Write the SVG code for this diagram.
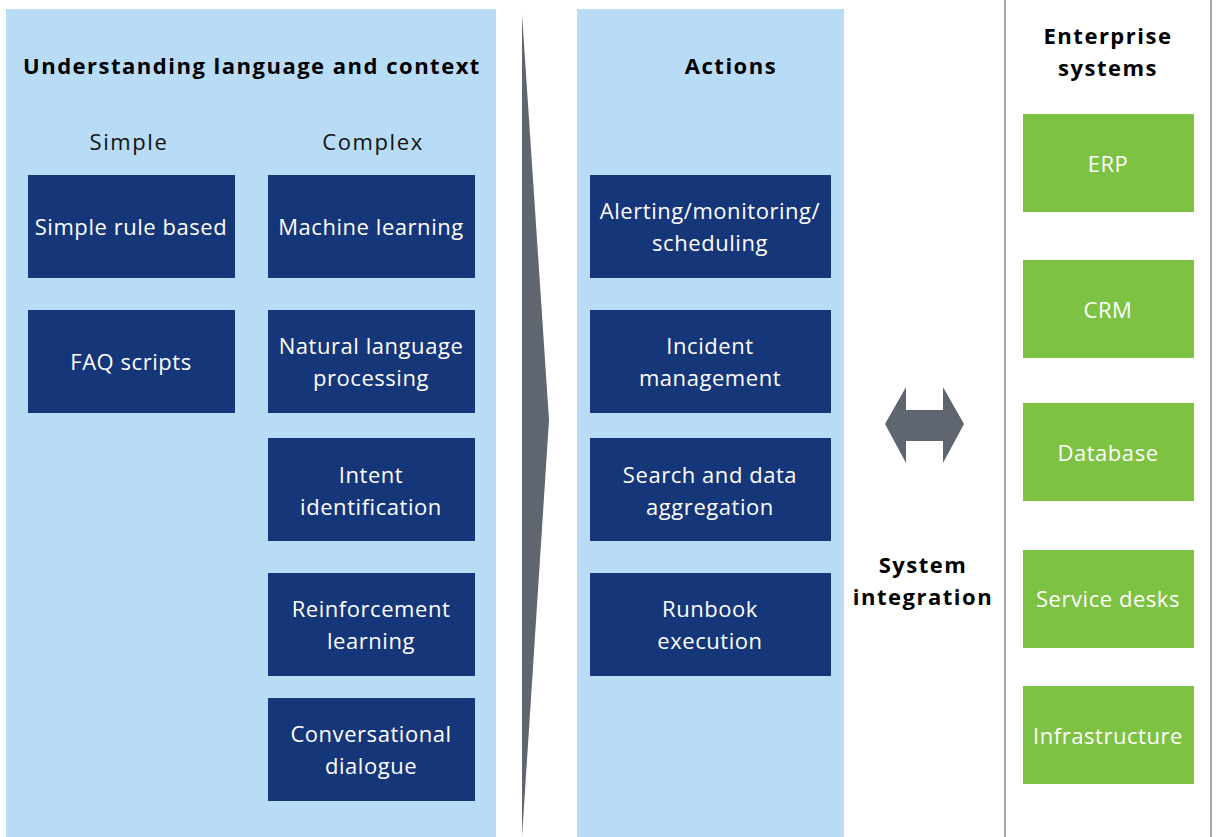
<svg xmlns="http://www.w3.org/2000/svg" width="1216" height="837" viewBox="0 0 1216 837">
<style>
.panel{fill:#b8dcf5}
.blue{fill:#16367a}
.green{fill:#7dc242}
.bt{font-family:"Open Sans","Liberation Sans",sans-serif;font-size:22px;fill:#ffffff;text-anchor:middle;letter-spacing:0.55px}
.hd{font-family:"Open Sans","Liberation Sans",sans-serif;font-size:22px;font-weight:bold;fill:#000;text-anchor:middle;letter-spacing:1.5px}
.sub{font-family:"Open Sans","Liberation Sans",sans-serif;font-size:22px;fill:#111;text-anchor:middle;letter-spacing:1.6px}
.gray{fill:#5f6670}
</style>
<rect class="panel" x="6" y="9" width="490" height="828"/>
<rect class="panel" x="577" y="9" width="267" height="828"/>
<line x1="1005" y1="0" x2="1005" y2="837" stroke="#8a8a8a" stroke-width="1.5"/>
<line x1="1211" y1="0" x2="1211" y2="837" stroke="#8a8a8a" stroke-width="1.5"/>
<g id="connectors">
<polygon class="gray" points="522,14 549,420 522,837"/>
<polygon class="gray" points="885,424 906,387 906,410 943,410 943,387 964,424 943,463 943,441 906,441 906,463"/>
</g>
<text class="hd" x="252" y="74">Understanding language and context</text>
<text class="sub" x="129" y="150">Simple</text>
<text class="sub" x="373" y="150">Complex</text>
<text class="hd" x="731" y="74">Actions</text>
<text class="hd" x="1108" y="44">Enterprise</text>
<text class="hd" x="1108" y="76">systems</text>
<text class="hd" x="923" y="573">System</text>
<text class="hd" x="923" y="605">integration</text>
<g id="n-simple-rule"><rect class="blue" x="28" y="175" width="207" height="103"/><text class="bt" x="131" y="235">Simple rule based</text></g>
<g id="n-faq"><rect class="blue" x="28" y="310" width="207" height="103"/><text class="bt" x="131" y="370">FAQ scripts</text></g>
<g id="n-ml"><rect class="blue" x="268" y="175" width="207" height="103"/><text class="bt" x="371" y="235">Machine learning</text></g>
<g id="n-nlp"><rect class="blue" x="268" y="310" width="207" height="103"/><text class="bt" x="371" y="354">Natural language</text><text class="bt" x="371" y="386">processing</text></g>
<g id="n-intent"><rect class="blue" x="268" y="438" width="207" height="103"/><text class="bt" x="371" y="483">Intent</text><text class="bt" x="371" y="515">identification</text></g>
<g id="n-rl"><rect class="blue" x="268" y="573" width="207" height="103"/><text class="bt" x="371" y="617">Reinforcement</text><text class="bt" x="371" y="649">learning</text></g>
<g id="n-conv"><rect class="blue" x="268" y="698" width="207" height="103"/><text class="bt" x="371" y="742">Conversational</text><text class="bt" x="371" y="774">dialogue</text></g>
<g id="n-alert"><rect class="blue" x="590" y="175" width="241" height="103"/><text class="bt" x="710" y="219">Alerting/monitoring/</text><text class="bt" x="710" y="251">scheduling</text></g>
<g id="n-incident"><rect class="blue" x="590" y="310" width="241" height="103"/><text class="bt" x="710" y="354">Incident</text><text class="bt" x="710" y="386">management</text></g>
<g id="n-search"><rect class="blue" x="590" y="438" width="241" height="103"/><text class="bt" x="710" y="483">Search and data</text><text class="bt" x="710" y="515">aggregation</text></g>
<g id="n-runbook"><rect class="blue" x="590" y="573" width="241" height="103"/><text class="bt" x="710" y="617">Runbook</text><text class="bt" x="710" y="649">execution</text></g>
<g id="n-erp"><rect class="green" x="1023" y="114" width="171" height="98"/><text class="bt" x="1108" y="172">ERP</text></g>
<g id="n-crm"><rect class="green" x="1023" y="260" width="171" height="98"/><text class="bt" x="1108" y="318">CRM</text></g>
<g id="n-db"><rect class="green" x="1023" y="403" width="171" height="98"/><text class="bt" x="1108" y="461">Database</text></g>
<g id="n-sd"><rect class="green" x="1023" y="550" width="171" height="98"/><text class="bt" x="1108" y="607">Service desks</text></g>
<g id="n-infra"><rect class="green" x="1023" y="686" width="171" height="98"/><text class="bt" x="1108" y="744">Infrastructure</text></g>
</svg>
